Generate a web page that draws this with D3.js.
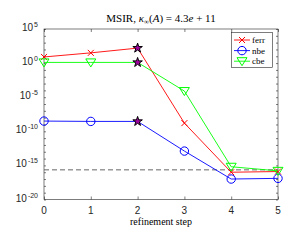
<!DOCTYPE html>
<html>
<head>
<meta charset="utf-8">
<script src="https://cdn.jsdelivr.net/npm/d3@7"></script>
<style>
  body { margin: 0; background: #fff; }
  svg { display: block; }
</style>
</head>
<body>
<svg id="chart" width="292" height="240"></svg>
<script>
// refinement steps and log10 of the errors
var steps = [0, 1, 2, 3, 4, 5];
var ferr = [0.9, 1.5, 2.2, -8.8, -16.0, -15.9];
var nbe = [-8.5, -8.55, -8.55, -12.9, -17.0, -16.9];
var cbe = [0.1, 0.1, 0.1, -4.1, -15.2, -15.8];
var epsLog = Math.log10(2.22e-16);
var yTicks = [5, 0, -5, -10, -15, -20];
var starSteps = [2];

var svg = d3.select("#chart");
var x = d3.scaleLinear().domain([0, 5]).range([44, 278]);
var y = d3.scaleLinear().domain([-20, 5]).range([199.5, 29]);
var axisColor = "#262626";

var g = svg.append("g");

// box
g.append("rect")
	.attr("x", x(0)).attr("y", y(5))
	.attr("width", x(5) - x(0)).attr("height", y(-20) - y(5))
	.attr("fill", "none").attr("stroke", axisColor).attr("stroke-width", 0.6);

// ticks: major on x, every decade on y (both sides)
var bottom = d3.axisBottom(x).ticks(6).tickSize(-3).tickFormat("");
var top_ = d3.axisTop(x).ticks(6).tickSize(-3).tickFormat("");
g.append("g").attr("transform", "translate(0," + y(-20) + ")").call(bottom);
g.append("g").attr("transform", "translate(0," + y(5) + ")").call(top_);
var decades = d3.range(-20, 6);
var left = d3.axisLeft(y).tickValues(decades).tickSize(-2).tickFormat("");
var right = d3.axisRight(y).tickValues(decades).tickSize(-2).tickFormat("");
g.append("g").attr("transform", "translate(" + x(0) + ",0)").call(left);
g.append("g").attr("transform", "translate(" + x(5) + ",0)").call(right);
g.selectAll(".domain").remove();
g.selectAll(".tick line").attr("stroke", axisColor).attr("stroke-width", 0.6);

// tick labels
g.selectAll(".xlab").data(steps).enter().append("text")
	.attr("x", function(d) { return x(d); })
	.attr("y", 214)
	.attr("text-anchor", "middle")
	.attr("font-family", "Liberation Sans, Arial, sans-serif")
	.attr("font-size", 10)
	.attr("fill", axisColor)
	.text(function(d) { return d; });

var yl = g.selectAll(".ylab").data(yTicks).enter().append("text")
	.attr("x", 38)
	.attr("y", function(d) { return y(d) + 2; })
	.attr("text-anchor", "end")
	.attr("font-family", "Liberation Sans, Arial, sans-serif")
	.attr("font-size", 10)
	.attr("fill", axisColor);
yl.append("tspan").text("10");
yl.append("tspan").attr("dy", -4).attr("dx", 1).attr("font-size", 7)
	.text(function(d) { return d; });

// machine epsilon
g.append("line")
	.attr("x1", x(0)).attr("x2", x(5))
	.attr("y1", y(epsLog)).attr("y2", y(epsLog))
	.attr("stroke", "#555").attr("stroke-width", 0.9)
	.attr("stroke-dasharray", "5,3");

var line = d3.line()
	.x(function(d, i) { return x(steps[i]); })
	.y(function(d) { return y(d); });

var series = [
	{ name: "ferr", values: ferr, color: "#ff0000", marker: "x" },
	{ name: "nbe", values: nbe, color: "#0000ff", marker: "o" },
	{ name: "cbe", values: cbe, color: "#00ff00", marker: "v" }
];

var drawMarker = function(sel, type, color, cx, cy) {
	if (type == "x") {
		sel.append("path")
			.attr("d", "M" + (cx - 3) + "," + (cy - 3) + "L" + (cx + 3) + "," + (cy + 3) +
				"M" + (cx - 3) + "," + (cy + 3) + "L" + (cx + 3) + "," + (cy - 3))
			.attr("stroke", color).attr("stroke-width", 1).attr("fill", "none");
	} else if (type == "o") {
		sel.append("circle").attr("cx", cx).attr("cy", cy).attr("r", 4.2)
			.attr("stroke", color).attr("stroke-width", 1).attr("fill", "none");
	} else {
		sel.append("path")
			.attr("d", "M" + (cx - 5) + "," + (cy - 3.5) + "L" + (cx + 5) + "," + (cy - 3.5) +
				"L" + cx + "," + (cy + 4.5) + "Z")
			.attr("stroke", color).attr("stroke-width", 1).attr("fill", "none");
	}
};

var star = d3.symbol().type(d3.symbolStar).size(28);

series.forEach(function(s) {
	g.append("path").attr("d", line(s.values))
		.attr("fill", "none").attr("stroke", s.color).attr("stroke-width", 0.9);
	s.values.forEach(function(v, i) {
		if (starSteps.indexOf(steps[i]) < 0)
			drawMarker(g, s.marker, s.color, x(steps[i]), y(v));
	});
});
// stars where the precision switch happens
series.forEach(function(s) {
	starSteps.forEach(function(st) {
		g.append("path").attr("d", star)
			.attr("transform", "translate(" + x(st) + "," + y(s.values[st]) + ")")
			.attr("fill", "#a000a0").attr("stroke", "#000").attr("stroke-width", 1);
	});
});

// legend
var lg = g.append("g");
lg.append("rect").attr("x", 231.5).attr("y", 32.5).attr("width", 41).attr("height", 35)
	.attr("fill", "#fff").attr("stroke", axisColor).attr("stroke-width", 0.6);
series.forEach(function(s, i) {
	var ly = 40 + i * 10.6;
	lg.append("line").attr("x1", 234).attr("x2", 250).attr("y1", ly).attr("y2", ly)
		.attr("stroke", s.color).attr("stroke-width", 0.9);
	drawMarker(lg, s.marker, s.color, 242, ly);
	lg.append("text").attr("x", 252).attr("y", ly + 3)
		.attr("font-family", "Liberation Serif, serif").attr("font-size", 9)
		.attr("fill", "#000").text(s.name);
});

// title and x label
var t = svg.append("text").attr("x", 161).attr("y", 22).attr("text-anchor", "middle")
	.attr("font-family", "Liberation Serif, serif").attr("font-size", 11).attr("fill", "#000");
t.append("tspan").text("MSIR,  ");
t.append("tspan").attr("font-style", "italic").text("κ");
t.append("tspan").attr("font-size", 7).attr("dy", 2).text("∞");
t.append("tspan").attr("dy", -2).text("(");
t.append("tspan").attr("font-style", "italic").text("A");
t.append("tspan").text(") = 4.3");
t.append("tspan").attr("font-style", "italic").text("e");
t.append("tspan").text(" + 11");

svg.append("text").attr("x", 161).attr("y", 225).attr("text-anchor", "middle")
	.attr("font-family", "Liberation Serif, serif").attr("font-size", 10).attr("fill", "#000")
	.text("refinement step");
</script>
</body>
</html>
